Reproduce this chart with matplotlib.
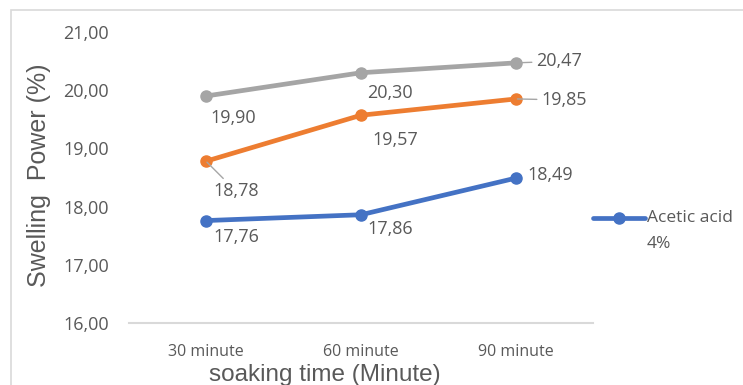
import matplotlib
matplotlib.use("Agg")
import matplotlib.pyplot as plt
from matplotlib.lines import Line2D
from matplotlib.patches import Rectangle

categories = ["30 minute", "60 minute", "90 minute"]
gray_vals = [19.90, 20.30, 20.47]
orange_vals = [18.78, 19.57, 19.85]
blue_vals = [17.76, 17.86, 18.49]
y_ticks = [16, 17, 18, 19, 20, 21]
legend_lines = ["Acetic acid", "4%"]

TXT = "#595959"
GRAY = "#A5A5A5"
ORANGE = "#ED7D31"
BLUE = "#4472C4"
NUMFONT = "Open Sans"

W, H = 743, 385
fig = plt.figure(figsize=(W / 100, H / 100), dpi=100)

# outer frame
fig.add_artist(Rectangle((11 / W, -0.2), 1.2, 1.2 - 10 / H, transform=fig.transFigure,
                         fill=False, edgecolor="#D9D9D9", lw=1.2))

ax = fig.add_axes([128.5 / W, 1 - 323 / H, 465 / W, (323 - 32) / H])
x = list(range(len(categories)))
ax.set_xlim(-0.5, len(categories) - 0.5)
ax.set_ylim(16, 21)

for vals, col in [(gray_vals, GRAY), (orange_vals, ORANGE), (blue_vals, BLUE)]:
    ax.plot(x, vals, color=col, lw=3.4, marker="o", markersize=8, solid_capstyle="round", zorder=3)

for s in ["top", "right", "left"]:
    ax.spines[s].set_visible(False)
ax.spines["bottom"].set_color("#D9D9D9")
ax.spines["bottom"].set_linewidth(1.5)

ax.set_yticks(y_ticks)
ax.set_yticklabels([f"{v:.2f}".replace(".", ",") for v in y_ticks], fontfamily=NUMFONT, fontsize=13, color=TXT)
ax.set_xticks(x)
ax.set_xticklabels(categories, fontfamily=NUMFONT, fontsize=11.5, color=TXT)
ax.tick_params(axis="y", length=0, pad=14)
ax.tick_params(axis="x", length=0, pad=15)

fig.text(325 / W, 1 - 381.5 / H, "soaking time (Minute)", ha="center", va="baseline",
         fontfamily="Liberation Sans", fontsize=17.5, color=TXT)
fig.text(39 / W, 1 - 175.5 / H, "Swelling  Power (%)", ha="center", va="center", rotation=90,
         fontfamily="Liberation Sans", fontsize=18, color=TXT)

def lab(v):
    return f"{v:.2f}".replace(".", ",")

# (series, index, offset px dx, dy, ha, leader)
specs = [
    (gray_vals, 0, 27, -21.5, "center", False),
    (gray_vals, 1, 29, -20, "center", False),
    (gray_vals, 2, 20, 1.5, "left", True),
    (orange_vals, 0, 30, -30, "center", True),
    (orange_vals, 1, 34, -25, "center", False),
    (orange_vals, 2, 25, -1, "left", True),
    (blue_vals, 0, 30, -16, "center", False),
    (blue_vals, 1, 29, -14, "center", False),
    (blue_vals, 2, 11, 3, "left", False),
]
for vals, i, dx, dy, ha, leader in specs:
    kw = {}
    if leader:
        kw["arrowprops"] = dict(arrowstyle="-", color="#A6A6A6", lw=1.0, shrinkA=1, shrinkB=1)
    ax.annotate(lab(vals[i]), xy=(x[i], vals[i]), xytext=(dx * 0.72, dy * 0.72),
                textcoords="offset points", ha=ha, va="center", fontfamily=NUMFONT,
                fontsize=13, color=TXT, zorder=4, **kw)

# legend (manual)
fig.add_artist(Line2D([593 / W, 645 / W], [1 - 218 / H, 1 - 218 / H], transform=fig.transFigure,
                      color=BLUE, lw=3.4, solid_capstyle="round"))
fig.add_artist(Line2D([619 / W], [1 - 218 / H], transform=fig.transFigure, color=BLUE,
                      marker="o", markersize=8, lw=0))
for k, line in enumerate(legend_lines):
    fig.text(647 / W, 1 - (218 + 26 * k) / H, line, ha="left", va="center", fontfamily=NUMFONT,
             fontsize=12.5, color=TXT)

fig.savefig("out.png", dpi=100)
